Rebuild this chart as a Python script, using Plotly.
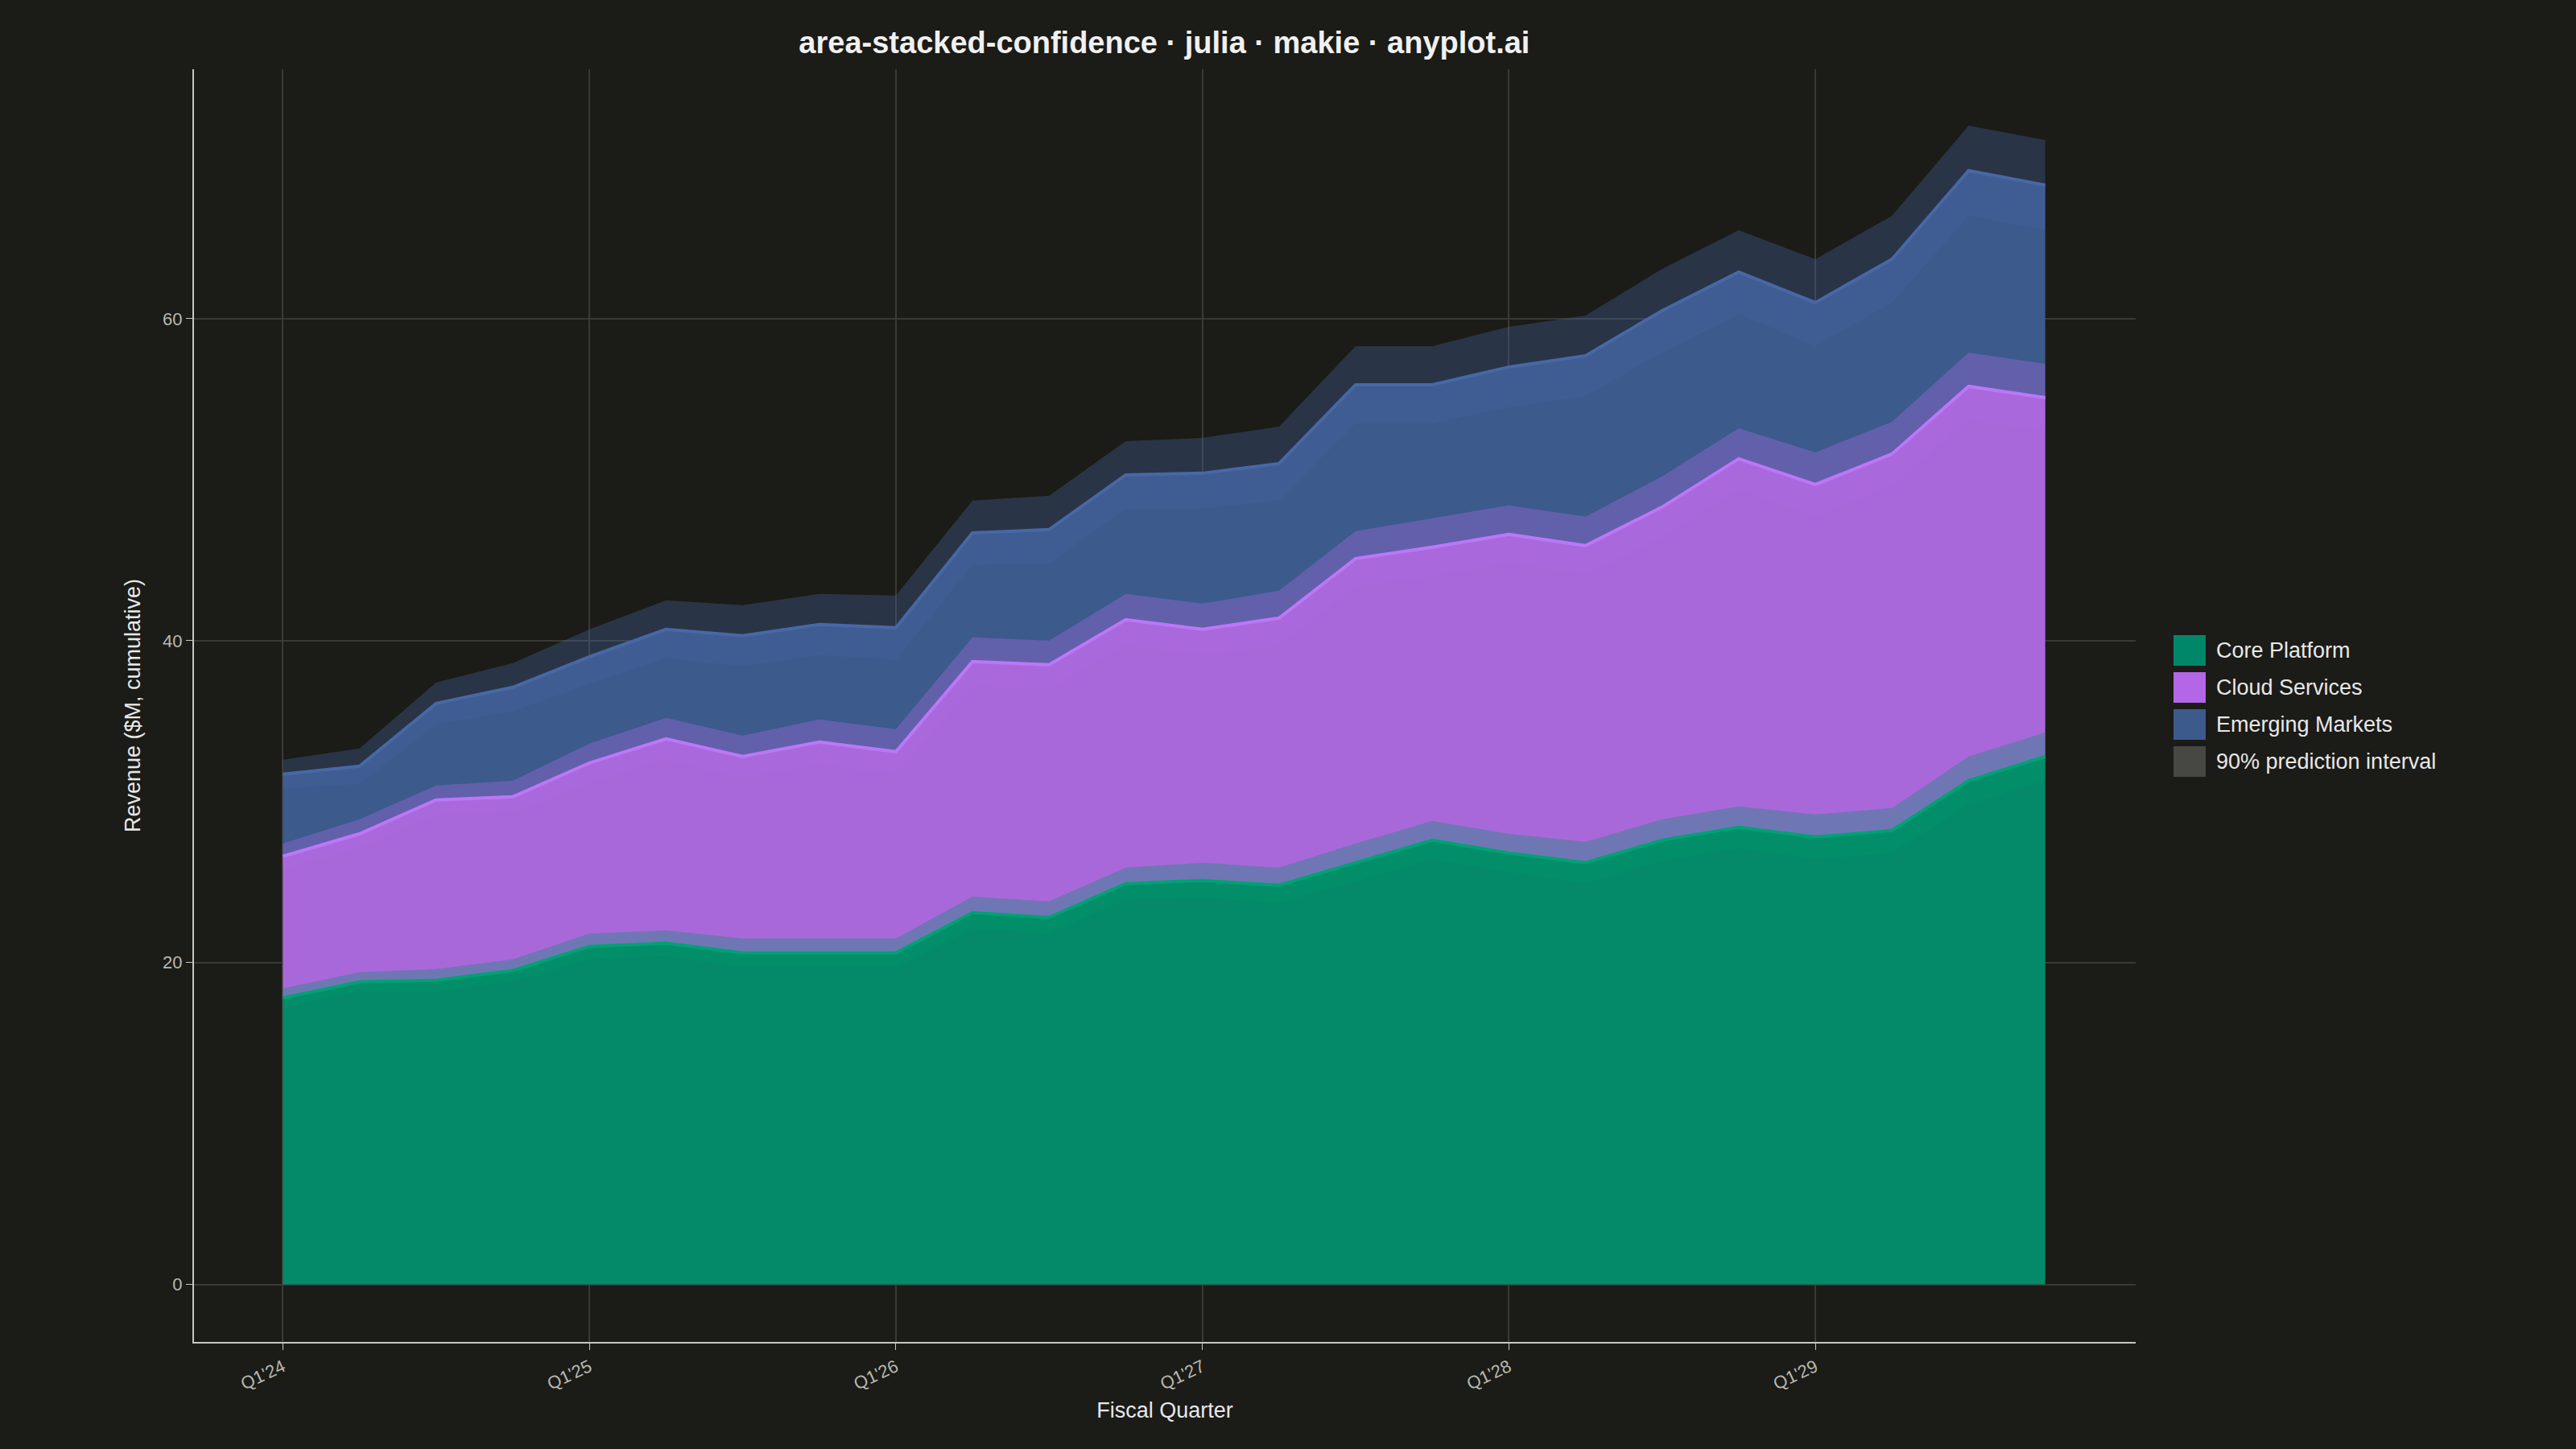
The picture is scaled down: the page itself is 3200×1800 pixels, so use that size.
import numpy as np
import plotly.graph_objects as go

quarters = [f"Q{q}'{y}" for y in range(24, 30) for q in range(1, 5)]
core = [17.8, 18.8, 18.9, 19.5, 21.0, 21.2, 20.6, 20.6, 20.6, 23.1, 22.8, 24.9,
        25.1, 24.8, 26.2, 27.6, 26.8, 26.2, 27.6, 28.4, 27.8, 28.2, 31.3, 32.8]
cloud_cum = [26.6, 28.0, 30.1, 30.3, 32.4, 33.9, 32.8, 33.7, 33.1, 38.7, 38.5, 41.3,
             40.7, 41.4, 45.1, 45.8, 46.6, 45.9, 48.3, 51.3, 49.7, 51.6, 55.8, 55.1]
emerg_cum = [31.7, 32.2, 36.1, 37.1, 39.0, 40.7, 40.3, 41.0, 40.8, 46.7, 46.9, 50.3,
             50.4, 51.0, 55.9, 55.9, 57.0, 57.7, 60.5, 62.9, 61.0, 63.7, 69.2, 68.3]
core_hw = [0.6, 0.6, 0.7, 0.7, 0.8, 0.8, 0.9, 0.9, 0.9, 1.0, 1.0, 1.0,
           1.1, 1.1, 1.2, 1.2, 1.2, 1.3, 1.3, 1.3, 1.4, 1.4, 1.5, 1.5]
cloud_hw = [0.8, 0.9, 0.9, 1.0, 1.2, 1.3, 1.3, 1.4, 1.4, 1.5, 1.5, 1.6,
            1.6, 1.7, 1.7, 1.8, 1.8, 1.8, 1.9, 1.9, 2.0, 2.0, 2.1, 2.1]
emerg_hw = [0.9, 1.1, 1.3, 1.5, 1.7, 1.8, 1.9, 1.9, 2.0, 2.0, 2.1, 2.1,
            2.2, 2.3, 2.4, 2.4, 2.5, 2.5, 2.6, 2.6, 2.7, 2.7, 2.8, 2.8]
legend_names = ["Core Platform", "Cloud Services", "Emerging Markets", "90% prediction interval"]
legend_colors = ["#00876a", "#b366e6", "#3d5a8c", "#474743"]

x = list(range(len(quarters)))
BG = "#1b1b17"
W, H = 3200, 1800
fig = go.Figure()

series = [
    ("Core Platform", core, core_hw, "#048a68", "#00a878", "rgba(0,150,110,0.35)", "tozeroy"),
    ("Cloud Services", cloud_cum, cloud_hw, "#a968d9", "#c77dff", "rgba(170,110,230,0.35)", "tonexty"),
    ("Emerging Markets", emerg_cum, emerg_hw, "#3c5a8c", "#4a6aa8", "rgba(70,100,160,0.35)", "tonexty"),
]
for name, top, hw, fc, lc, bc, fm in series:
    fig.add_trace(go.Scatter(x=x, y=top, mode="lines", line=dict(color=lc, width=4),
                             fill=fm, fillcolor=fc, name=name, showlegend=False))
for name, top, hw, fc, lc, bc, fm in series:
    lo = (np.array(top) - np.array(hw)).tolist()
    hi = (np.array(top) + np.array(hw)).tolist()
    fig.add_trace(go.Scatter(x=x, y=lo, mode="lines", line=dict(width=0), showlegend=False, hoverinfo="skip"))
    fig.add_trace(go.Scatter(x=x, y=hi, mode="lines", line=dict(width=0), fill="tonexty",
                             fillcolor=bc, showlegend=False, hoverinfo="skip"))

# manual legend (paper coordinates of the full 3200x1800 canvas)
ml, mr, mt, mb = 241, 547, 86, 133
pw, ph = W - ml - mr, H - mt - mb
def px(xp): return (xp - ml) / pw
def py(yp): return (H - mb - yp) / ph
for i, (nm, col) in enumerate(zip(legend_names, legend_colors)):
    yc = 808 + i * 46
    fig.add_shape(type="rect", xref="paper", yref="paper", x0=px(2700), x1=px(2740),
                  y0=py(yc + 19), y1=py(yc - 19), fillcolor=col, line=dict(width=0))
    fig.add_annotation(xref="paper", yref="paper", x=px(2751), y=py(yc), text=nm, showarrow=False,
                       xanchor="left", yanchor="middle", font=dict(size=27, color="#e8e8e8"))

tickidx = [0, 4, 8, 12, 16, 20]
fig.update_layout(
    width=W, height=H, paper_bgcolor=BG, plot_bgcolor=BG,
    margin=dict(l=ml, r=mr, t=mt, b=mb),
    title=dict(text="<b>area-stacked-confidence · julia · makie · anyplot.ai</b>", x=0.452, xanchor="center",
               y=0.978, yanchor="top", font=dict(size=38, color="#f0f0f0", family="Liberation Sans")),
    font=dict(family="Liberation Sans", color="#cfcfc8"),
    showlegend=False,
)
fig.update_xaxes(range=[-1.16, 24.18], tickvals=tickidx, ticktext=[quarters[i] for i in tickidx],
                 tickangle=-25, tickfont=dict(size=22, color="#b8b8b0"), showgrid=True,
                 gridcolor="#3a3a35", gridwidth=2, zeroline=False, showline=True, linecolor="#c8c8c0",
                 linewidth=2, ticks="outside", ticklen=8, tickcolor="#c8c8c0",
                 title=dict(text="Fiscal Quarter", font=dict(size=27, color="#e8e8e8"), standoff=12))
fig.update_yaxes(range=[-3.57, 75.5], tickvals=[0, 20, 40, 60], tickfont=dict(size=22, color="#b8b8b0"),
                 showgrid=True, gridcolor="#3a3a35", gridwidth=2, zeroline=False, showline=True,
                 linecolor="#c8c8c0", linewidth=2, ticks="outside", ticklen=8, tickcolor="#c8c8c0",
                 title=dict(text="Revenue ($M, cumulative)", font=dict(size=27, color="#e8e8e8"), standoff=20))
fig.write_html("out.html", config={"displayModeBar": False},
               post_script="document.body.style.margin='0';document.body.style.background='#1b1b17';")
